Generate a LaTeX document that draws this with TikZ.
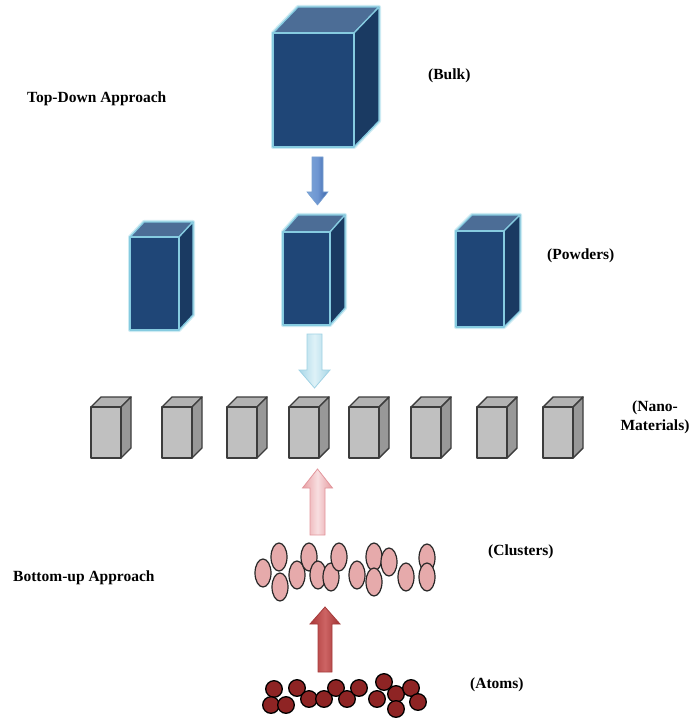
\documentclass[tikz,border=0pt]{standalone}
\usepackage{fontspec}
\setmainfont{Liberation Serif}
\newfontfamily\captionfont{Liberation Serif}
\usetikzlibrary{calc}

\definecolor{bluefrontc}{HTML}{1F4677}
\definecolor{bluetopc}{HTML}{4C6D96}
\definecolor{bluesidec}{HTML}{1A3A62}
\definecolor{blueedgec}{HTML}{86CBE0}
\definecolor{blueglowc}{HTML}{CDEBF3}
\definecolor{grayfrontc}{HTML}{C0C0C0}
\definecolor{graytopc}{HTML}{B2B2B2}
\definecolor{graysidec}{HTML}{989898}
\definecolor{grayedgec}{HTML}{3C3C3C}
\definecolor{clusterc}{HTML}{E6AAAB}
\definecolor{atomc}{HTML}{8E2424}

% draws a box: left x, top y of the front face, width, height, depth dx, depth dy, style prefix
\newcommand\solidcube[7]{%
  \path[#7glow] (#1,{#2+#4}) -- (#1,#2) -- ({#1+#5},{#2-#6}) -- ({#1+#3+#5},{#2-#6})
     -- ({#1+#3+#5},{#2+#4-#6}) -- ({#1+#3},{#2+#4}) -- cycle;
  \path[#7top] (#1,#2) -- ({#1+#5},{#2-#6}) -- ({#1+#3+#5},{#2-#6}) -- ({#1+#3},#2) -- cycle;
  \path[#7side] ({#1+#3},#2) -- ({#1+#3+#5},{#2-#6}) -- ({#1+#3+#5},{#2+#4-#6}) -- ({#1+#3},{#2+#4}) -- cycle;
  \path[#7front] (#1,#2) rectangle ({#1+#3},{#2+#4});
}

% block arrow: centre x, tail y, head base y, tip y, half shaft width, half head width, style
\newcommand\blockarrow[7]{%
  \path[#7] ({#1-#5},#2) -- ({#1-#5},#3) -- ({#1-#6},#3) -- (#1,#4) -- ({#1+#6},#3)
     -- ({#1+#5},#3) -- ({#1+#5},#2) -- cycle;
}

\tikzset{
  blueglow/.style={draw=blueglowc, line width=4pt, line join=round},
  bluetop/.style={fill=bluetopc, draw=blueedgec, line width=1.3pt, line join=round},
  blueside/.style={fill=bluesidec, draw=blueedgec, line width=1.3pt, line join=round},
  bluefront/.style={fill=bluefrontc, draw=blueedgec, line width=1.3pt, line join=round},
  grayglow/.style={},
  graytop/.style={fill=graytopc, draw=grayedgec, line width=1.4pt, line join=round},
  grayside/.style={fill=graysidec, draw=grayedgec, line width=1.4pt, line join=round},
  grayfront/.style={fill=grayfrontc, draw=grayedgec, line width=1.4pt, line join=round},
  label/.style={font=\captionfont\fontsize{15.5}{19}\selectfont\bfseries, inner sep=0pt, anchor=west},
  cluster/.style={fill=clusterc, draw=black!85, line width=1.2pt},
  atom/.style={fill=atomc, draw=black, line width=1.3pt},
  bluearrow/.style={left color={rgb,255:red,125;green,165;blue,215}, right color={rgb,255:red,58;green,100;blue,168}, middle color={rgb,255:red,110;green,150;blue,210}, draw={rgb,255:red,120;green,160;blue,210}, line width=0.6pt},
  lightarrow/.style={left color={rgb,255:red,170;green,215;blue,232}, right color={rgb,255:red,168;green,214;blue,230}, middle color={rgb,255:red,222;green,242;blue,248}, draw={rgb,255:red,160;green,210;blue,228}, line width=0.8pt},
  pinkarrow/.style={left color={rgb,255:red,232;green,160;blue,164}, right color={rgb,255:red,230;green,155;blue,160}, middle color={rgb,255:red,248;green,222;blue,224}, draw={rgb,255:red,226;green,150;blue,156}, line width=0.8pt},
  redarrow/.style={left color={rgb,255:red,170;green,55;blue,55}, right color={rgb,255:red,160;green,50;blue,50}, middle color={rgb,255:red,205;green,100;blue,100}, draw={rgb,255:red,165;green,60;blue,60}, line width=0.8pt},
}

\begin{document}
\begin{tikzpicture}[x=1pt, y=-1pt]
  \useasboundingbox (0,0) rectangle (693,719);

  % bulk block
  \solidcube{273}{33}{81}{114}{25}{26}{blue}
  \coordinate (bulk) at (313,90);

  % powder blocks
  \solidcube{130}{237}{49}{93}{14}{15}{blue}
  \solidcube{283}{232}{47}{93}{15}{17}{blue}
  \solidcube{456}{231}{48}{96}{16}{16}{blue}

  % nano-material blocks
  \foreach \xx in {91,162,227,289,349,411,477,543}
    \solidcube{\xx}{407}{30}{51}{10}{10}{gray};

  % arrows between the stages
  \blockarrow{317.5}{157}{192}{205}{5.5}{10.5}{bluearrow}
  \blockarrow{314.5}{334}{370}{388}{7.5}{15.5}{lightarrow}
  \blockarrow{317.5}{535}{488}{469}{7.5}{15}{pinkarrow}
  \blockarrow{325}{672}{624}{607}{7}{15}{redarrow}

  % clusters
  \foreach \cx/\cy in {263/573, 279/557, 280/587, 297/575, 309/557, 318/575,
                       331/577, 339/557, 357/575, 374/557, 374/582, 389/562,
                       406/577, 427/558, 427/577}
    \path[cluster] (\cx,\cy) ellipse [x radius=8pt, y radius=14pt];

  % atoms
  \foreach \ax/\ay in {274/689, 271/705, 286/705, 297/688, 309/699, 324/699,
                       336/688, 347/699, 359/688, 377/699, 384/682, 396/694,
                       411/688, 418/702, 396/709}
    \path[atom] (\ax,\ay) circle [radius=8.3pt];

  % captions
  \node[label] (tdlabel) at (27,99) {Top-Down Approach};
  \node[label] (bulklabel) at (428,76) {(Bulk)};
  \node[label] (powderlabel) at (547,256) {(Powders)};
  \node[label, anchor=center, align=center] (nanolabel) at (655,417) {(Nano-\\Materials)};
  \node[label] (clusterlabel) at (488,552) {(Clusters)};
  \node[label] (bulabel) at (13,578) {Bottom-up Approach};
  \node[label] (atomlabel) at (470,685) {(Atoms)};
\end{tikzpicture}
\end{document}
